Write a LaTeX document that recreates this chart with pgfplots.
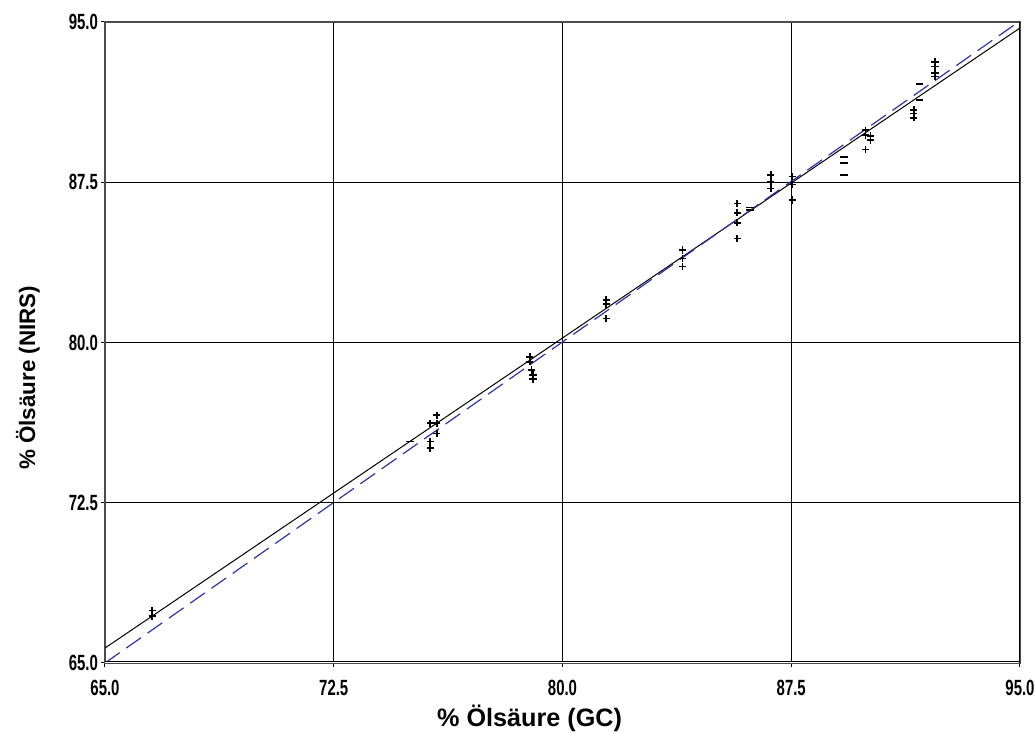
\documentclass[border=0pt]{standalone}
\usepackage{fontspec}
\setmainfont{Liberation Sans}
\newfontfamily\tickfont[FakeStretch=0.68]{Liberation Sans}
\usepackage{pgfplots}
\pgfplotsset{compat=1.18}
\definecolor{fitblue}{RGB}{50,50,170}
\begin{document}
\begin{tikzpicture}
\useasboundingbox (-52.5pt,-35pt) rectangle (465pt,331.5pt);
\begin{axis}[
  at={(0,0)}, anchor=south west,
  scale only axis, width=457.5pt, height=320.5pt,
  xmin=65, xmax=95, ymin=65, ymax=95,
  xtick={65,72.5,80,87.5,95}, ytick={65,72.5,80,87.5,95},
  grid=major, major grid style={black, line width=0.55pt},
  axis line style={black!70, line width=0.6pt},
  tick style={black, line width=0.5pt}, major tick length=2pt, tick align=outside,
  xtick pos=bottom, ytick pos=left,
  /pgf/number format/assume math mode=true,
  /pgf/number format/.cd, fixed, precision=1, zerofill, /tikz/.cd,
  ticklabel style={font=\tickfont\bfseries\fontsize{11}{12}\selectfont},
  xticklabel style={yshift=-3pt},
  yticklabel style={xshift=2pt},
  xlabel={\% Ölsäure (GC)},
  ylabel={\% Ölsäure (NIRS)},
  xlabel style={font=\bfseries\fontsize{12.6}{14}\selectfont, at={(axis description cs:0.464,0)}, anchor=center, yshift=-27.5pt},
  ylabel style={font=\bfseries\fontsize{11.2}{13}\selectfont, at={(axis description cs:0,0.445)}, anchor=center, yshift=38.5pt},
  clip=true,
]
\addplot[black, line width=0.5pt] coordinates {(65,65.7) (95,94.72)};
\addplot[fitblue, line width=0.6pt, dash pattern=on 9pt off 4pt] coordinates {(65,65) (95,95.05)};
\addplot[only marks, mark=+, mark size=1.8pt, mark options={line width=0.8pt, black}] coordinates {
(66.55,67.45) (66.55,67.2)
(75.66,76.22) (75.66,75.36) (75.66,75.05)
(75.88,76.6) (75.88,76.22) (75.88,75.75)
(78.93,79.33) (78.93,79.10) (78.98,78.71) (79.03,78.48) (79.03,78.28)
(81.43,81.99) (81.43,81.80) (81.43,81.13)
(83.93,84.33) (83.93,83.94) (83.93,83.55)
(85.73,86.51) (85.73,86.07) (85.73,85.60) (85.73,84.87)
(86.83,87.84) (86.83,87.52) (86.83,87.21)
(87.53,87.76) (87.53,87.40) (87.53,86.67)
(89.94,89.94) (89.94,89.71) (89.94,89.04) (90.10,89.66) (90.10,89.47)
(91.52,90.88) (91.52,90.72) (91.52,90.52)
(92.21,93.14) (92.21,92.91) (92.21,92.60) (92.21,92.44)
};
\addplot[only marks, mark=-, mark size=1.8pt, mark options={line width=0.8pt, black}] coordinates {
(75.0,75.36) (86.15,86.32) (86.15,86.19) (89.23,88.69) (89.23,88.41) (89.23,87.84) (91.70,92.09) (91.70,91.34)
};
\draw[black, line width=0.6pt, double=white, double distance=0.8pt] (rel axis cs:0,0) -- (rel axis cs:1,0);
\draw[black, line width=0.7pt] (rel axis cs:1,0) -- (rel axis cs:1,1);
\end{axis}
\end{tikzpicture}
\end{document}
